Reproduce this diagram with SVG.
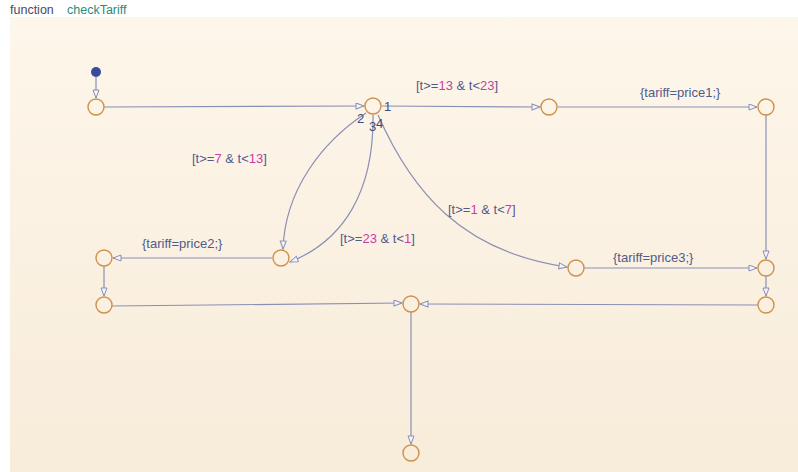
<svg xmlns="http://www.w3.org/2000/svg" width="798" height="472" viewBox="0 0 798 472">
<defs>
<linearGradient id="bg" x1="0" y1="0" x2="0" y2="1">
<stop offset="0" stop-color="#fdf6ea"/>
<stop offset="1" stop-color="#f8ecda"/>
</linearGradient>
<marker id="ah" markerUnits="userSpaceOnUse" markerWidth="12" markerHeight="10" refX="9" refY="3.5" orient="auto">
<path d="M1,0.5 L9,3.5 L1,6.5 Z" fill="#f4f4fa" stroke="#8a8fb5" stroke-width="1"/>
</marker>
<style>
.j{fill:none;stroke:#d0914a;stroke-width:1.4}
.c{fill:none;stroke:#8a8fb5;stroke-width:1.2;marker-end:url(#ah)}
.t{font-family:"Liberation Sans",Arial,sans-serif;font-size:13px;fill:#525a8c}
.n{fill:#c83ca8}
.p{font-family:"Liberation Sans",Arial,sans-serif;font-size:13px;fill:#3f4a80}
</style>
</defs>
<rect width="798" height="472" fill="#ffffff"/>
<rect x="10" y="17" width="788" height="455" fill="url(#bg)"/>
<text x="10" y="14" class="t" style="font-size:12.5px;fill:#454a6a">function</text>
<text x="67" y="14" class="t" style="font-size:12.5px;fill:#2a8a78">checkTariff</text>

<g id="connectors">
<line class="c" x1="96" y1="77" x2="96" y2="98"/>
<line class="c" x1="104" y1="107" x2="364" y2="106"/>
<line class="c" x1="382" y1="106" x2="540" y2="107"/>
<line class="c" x1="558" y1="107" x2="757" y2="107"/>
<line class="c" x1="766" y1="115" x2="766" y2="259"/>
<path class="c" d="M366,113 C322,142 285,190 283,249"/>
<path class="c" d="M373,115 C374,190 345,240 290,262"/>
<path class="c" d="M378,115 C412,192 462,252 567,267"/>
<line class="c" x1="584" y1="268" x2="757" y2="268"/>
<line class="c" x1="766" y1="276" x2="766" y2="296"/>
<line class="c" x1="272" y1="258" x2="113" y2="258"/>
<line class="c" x1="104" y1="266" x2="104" y2="296"/>
<line class="c" x1="112" y1="306" x2="402" y2="303"/>
<line class="c" x1="758" y1="305" x2="420" y2="304"/>
<line class="c" x1="411" y1="312" x2="411" y2="444"/>
</g>

<g id="labels">
<text class="p" x="384" y="111">1</text>
<text class="p" x="357" y="123">2</text>
<text class="p" x="369" y="131">3</text>
<text class="p" x="376" y="128">4</text>
<text class="t" x="416" y="90">[t&gt;=<tspan class="n">13</tspan> &amp; t&lt;<tspan class="n">23</tspan>]</text>
<text class="t" x="640" y="97">{tariff=price1;}</text>
<text class="t" x="192" y="163">[t&gt;=<tspan class="n">7</tspan> &amp; t&lt;<tspan class="n">13</tspan>]</text>
<text class="t" x="340" y="243">[t&gt;=<tspan class="n">23</tspan> &amp; t&lt;<tspan class="n">1</tspan>]</text>
<text class="t" x="448" y="214">[t&gt;=<tspan class="n">1</tspan> &amp; t&lt;<tspan class="n">7</tspan>]</text>
<text class="t" x="142" y="248">{tariff=price2;}</text>
<text class="t" x="613" y="262">{tariff=price3;}</text>
</g>

<g id="default"><circle cx="96" cy="72" r="5" fill="#3a4b9c"/></g>
<g id="j0"><circle class="j" cx="96" cy="107" r="8"/></g>
<g id="j1"><circle class="j" cx="373" cy="106" r="8"/></g>
<g id="j2"><circle class="j" cx="549" cy="107" r="8"/></g>
<g id="j3"><circle class="j" cx="766" cy="107" r="8"/></g>
<g id="j4"><circle class="j" cx="281" cy="258" r="8"/></g>
<g id="j5"><circle class="j" cx="104" cy="258" r="8"/></g>
<g id="j6"><circle class="j" cx="104" cy="305" r="8"/></g>
<g id="j7"><circle class="j" cx="576" cy="268" r="8"/></g>
<g id="j8"><circle class="j" cx="766" cy="268" r="8"/></g>
<g id="j9"><circle class="j" cx="766" cy="305" r="8"/></g>
<g id="j10"><circle class="j" cx="411" cy="304" r="8"/></g>
<g id="j11"><circle class="j" cx="411" cy="453" r="8"/></g>
</svg>
